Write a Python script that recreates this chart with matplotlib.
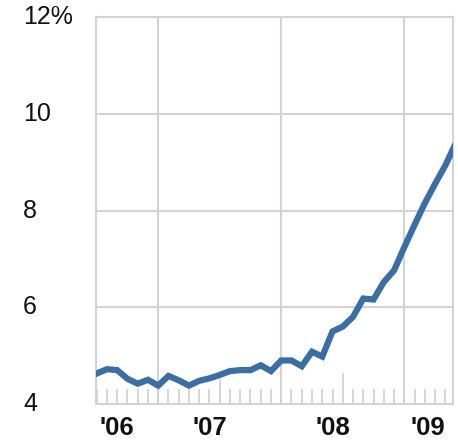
import matplotlib
matplotlib.use("Agg")
import matplotlib.pyplot as plt
from matplotlib.ticker import FixedLocator
import matplotlib.transforms as mtransforms

# monthly unemployment rate, Jun 2006 .. May 2009
months = list(range(36))
rate = [4.63, 4.72, 4.70, 4.52, 4.42, 4.50, 4.38, 4.58, 4.49, 4.38, 4.48, 4.53,
        4.60, 4.68, 4.70, 4.70, 4.80, 4.68, 4.90, 4.90, 4.78, 5.08, 4.98, 5.50,
        5.60, 5.80, 6.18, 6.16, 6.52, 6.76, 7.24, 7.70, 8.15, 8.55, 8.93, 9.38]

year_lines = [6, 18, 30]
mid_year = [12, 24]
year_labels = ["'06", "'07", "'08", "'09"]
year_label_pos = [2, 11, 23, 32.3]
y_ticks = [4, 6, 8, 10, 12]
y_labels = ["4", "6", "8", "10", "12%"]

grid_c = "#d3d3d3"
line_c = "#3b6ea5"

plt.rcParams['font.family'] = ['Liberation Sans', 'DejaVu Sans']

fig = plt.figure(figsize=(4.58, 4.42), dpi=100)
ax = fig.add_axes([0.2096, 0.086, 0.989 - 0.2096, 0.9615 - 0.086])

ax.set_xlim(-0.07, 34.75)
ax.set_ylim(4, 12)

for s in ax.spines.values():
    s.set_color(grid_c)
    s.set_linewidth(1.5)

for x in year_lines:
    ax.axvline(x, color=grid_c, lw=1.5, zorder=1)
for y in y_ticks[1:-1]:
    ax.axhline(y, color=grid_c, lw=1.5, zorder=1)

# month ticks (short) and mid-year ticks (tall)
ax.xaxis.set_major_locator(FixedLocator(mid_year))
ax.xaxis.set_minor_locator(FixedLocator([m for m in months if m not in mid_year + year_lines]))
ax.tick_params(axis='x', which='major', direction='in', length=22, width=1.3, color=grid_c, labelbottom=False)
ax.tick_params(axis='x', which='minor', direction='in', length=11, width=1.3, color=grid_c)

ax.set_yticks([])
trans_y = mtransforms.blended_transform_factory(fig.transFigure, ax.transData)
for y, lab in zip(y_ticks, y_labels):
    ax.text(23 / 458, y, lab, transform=trans_y, ha='left', va='center', fontsize=18, color='#111111')

trans_x = mtransforms.blended_transform_factory(ax.transData, fig.transFigure)
for x, lab in zip(year_label_pos, year_labels):
    ax.text(x, 1 - 428 / 442, lab, transform=trans_x, ha='center', va='center',
            fontsize=18.5, color='#111111', fontweight='bold')

ax.plot(months, rate, color=line_c, lw=4.5, solid_joinstyle='miter', zorder=3)

fig.savefig("out.png", dpi=100)
